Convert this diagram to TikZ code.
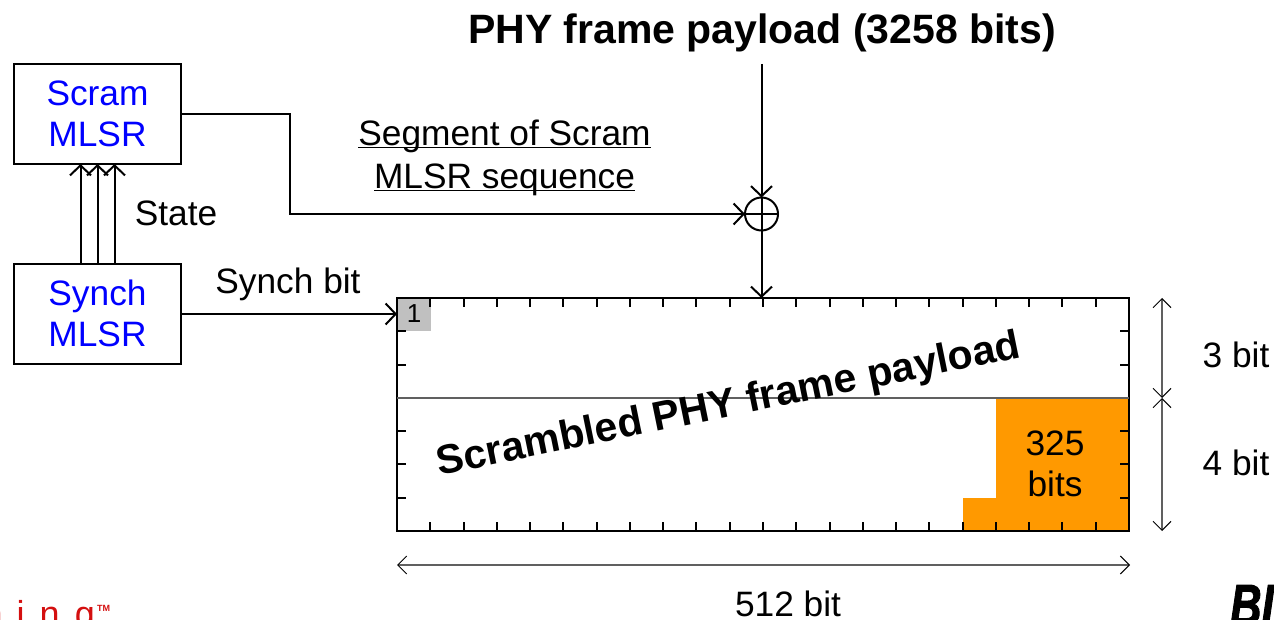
\documentclass[tikz,border=0pt]{standalone}
\usepackage{fontspec}
\setmainfont{Liberation Sans}
\usetikzlibrary{arrows.meta}
\definecolor{fillorange}{HTML}{FF9900}
\definecolor{fillgrey}{HTML}{C0C0C0}
\definecolor{dimgrey}{HTML}{606060}
\definecolor{logored}{HTML}{D40F0F}
\newcommand{\bodysize}{\fontsize{35.3}{41}\selectfont}
\newcommand{\headsize}{\fontsize{41}{47}\selectfont\bfseries}
\newcommand{\regtext}[2]{#1\vphantom{h}\\#2\rule[-2pt]{0pt}{0pt}}
\newcommand{\segline}[1]{\underline{\smash{#1}}}
\tikzset{
    regbox/.style={draw, line width=2pt, outer sep=0pt, minimum width=167pt, minimum height=100pt, align=center, text=blue, font=\bodysize},
    bodytext/.style={align=center, inner sep=0pt, font=\bodysize},
    wire/.style={line width=2pt, -{Straight Barb[length=10pt,width=21pt,line width=2pt]}},
    dimline/.style={line width=1.3pt, draw=dimgrey, {Straight Barb[length=9pt,width=18pt,line width=1pt,color=black]}-{Straight Barb[length=9pt,width=18pt,line width=1pt,color=black]}}
}

\begin{document}
\begin{tikzpicture}[x=1pt, y=-1pt]
    \useasboundingbox (0,0) rectangle (1274,620);

    \fill[fillorange] (996,398) rectangle (1129,531);
    \fill[fillorange] (963,498) rectangle (996,531);

    \node[fill=fillgrey, outer sep=0pt, inner sep=0pt, minimum width=34pt, minimum height=34pt, font=\fontsize{26}{30}\selectfont] (first) at (414,314) {1};
    \node[draw, line width=2.4pt, outer sep=0pt, minimum width=732pt, minimum height=233pt] (frame) at (763,414.5) {};

    \foreach \i in {1,...,21} {
        \draw[line width=2pt] (397+\i*33.27,298) -- +(0,9);
        \draw[line width=2pt] (397+\i*33.27,531) -- +(0,-9);
    }
    \foreach \j in {1,...,6} {
        \draw[line width=2pt] (397,298+\j*33.29) -- +(9,0);
        \draw[line width=2pt] (1129,298+\j*33.29) -- +(-9,0);
    }
    \draw[line width=1.3pt, draw=dimgrey] (397,398) -- (1129,398);

    \node[regbox] (scram) at (97.5,114) {\regtext{Scram}{MLSR}};
    \node[regbox] (synch) at (97.5,314) {\regtext{Synch}{MLSR}};
    \node[draw, circle, line width=2pt, outer sep=0pt, inner sep=0pt, minimum size=33pt] (xor) at (761.5,214) {};
    \draw[line width=2pt] (xor.north) -- (xor.south);
    \draw[line width=2pt] (xor.west) -- (xor.east);

    \coordinate (payin) at (761.5,64);
    \coordinate (scramturn) at (290,114);
    \coordinate (scramdown) at (290,214);
    \coordinate (framein) at (761.5,298);
    \coordinate (dimtop) at (1162,298);
    \coordinate (dimmid) at (1162,398);
    \coordinate (dimbot) at (1162,531);
    \coordinate (dimleft) at (397,565);
    \coordinate (dimright) at (1130,565);

    \draw[wire] (payin) -- (xor.north);
    \draw[wire] (xor.south) -- (framein);
    \draw[wire] (scram.east) -- (scramturn) -- (scramdown) -- (xor.west);
    \draw[wire] (synch.east) -- (first.west);
    \foreach \s in {-17,0,17} {
        \draw[wire] ([xshift=\s pt]synch.north) -- ([xshift=\s pt]scram.south);
    }

    \draw[dimline] (dimtop) -- (dimmid);
    \draw[dimline] (dimbot) -- (dimmid);
    \draw[dimline] (dimleft) -- (dimright);

    \node[font=\headsize, inner sep=0pt] (title) at (762,33) {PHY frame payload (3258 bits)};
    \node[bodytext, font=\fontsize{35.3}{43}\selectfont] (segment) at (504.5,168) {\segline{Segment of Scram}\\\segline{MLSR sequence}};
    \node[bodytext] (state) at (176,213) {State};
    \node[bodytext] (synchbit) at (288,284) {Synch bit};
    \node[bodytext] (threebit) at (1236,355) {3 bit};
    \node[bodytext] (fourbit) at (1236,463) {4 bit};
    \node[bodytext] (widthbit) at (788,604) {512 bit};
    \node[bodytext] (tailbits) at (1055,464) {325\\bits};
    \node[font=\fontsize{41}{47}\selectfont\bfseries, inner sep=0pt, rotate=11.5] (body) at (728.5,406) {Scrambled PHY frame payload};

    \node[anchor=base east, inner sep=0pt, text=logored, font=\fontsize{36}{40}\selectfont] (logotext) at (95,626) {n\hspace{14pt}i\hspace{15pt}n\hspace{15pt}g};
    \node[anchor=base west, inner sep=0pt, text=logored, font=\fontsize{9}{11}\selectfont\bfseries] (logotm) at (97,611) {TM};
    \node[anchor=base west, inner sep=0pt, font=\fontsize{58}{62}\selectfont\bfseries\itshape\addfontfeature{FakeBold=2}] (logobrand) at (1230,625) {\scalebox{0.75}[1]{BI}};
\end{tikzpicture}
\end{document}
